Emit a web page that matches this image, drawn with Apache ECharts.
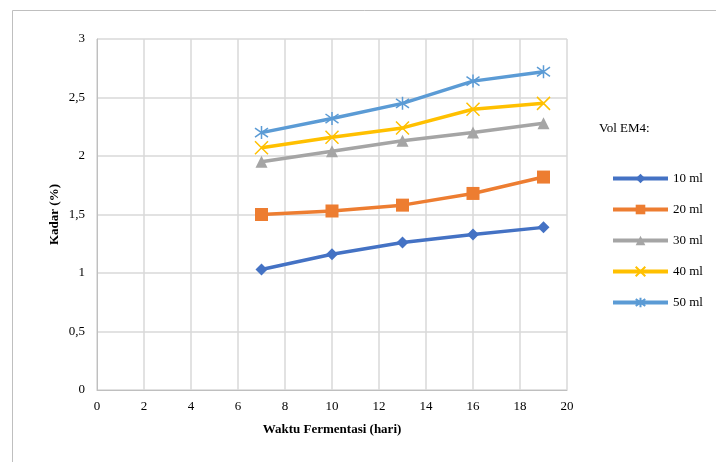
<!DOCTYPE html>
<html><head><meta charset="utf-8">
<script src="https://cdn.jsdelivr.net/npm/echarts@6/dist/echarts.min.js"></script>
<style>html,body{margin:0;padding:0;background:#fff}#c{width:716px;height:462px}</style>
</head><body><div id="c"></div>
<script>
var days = [7, 10, 13, 16, 19];
var seriesNames = ['10 ml', '20 ml', '30 ml', '40 ml', '50 ml'];
var vol10 = [1.03, 1.16, 1.26, 1.33, 1.39];
var vol20 = [1.50, 1.53, 1.58, 1.68, 1.82];
var vol30 = [1.95, 2.04, 2.13, 2.20, 2.28];
var vol40 = [2.07, 2.16, 2.24, 2.40, 2.45];
var vol50 = [2.20, 2.32, 2.45, 2.64, 2.72];
var legendTitle = 'Vol EM4:';
var xName = 'Waktu Fermentasi (hari)';
var yName = 'Kadar (%)';

var colors = ['#4472C4', '#ED7D31', '#A5A5A5', '#FFC000', '#5B9BD5'];
var symbols = ['diamond', 'rect', 'triangle',
  'path://M0,0L10,10M10,0L0,10',
  'path://M5,0L5,10M1.5,1.5L8.5,8.5M8.5,1.5L1.5,8.5'];
var sizes = [12, 13, 12, 13, 13];
var allData = [vol10, vol20, vol30, vol40, vol50];
var font = '"Liberation Serif", "Times New Roman", serif';

var series = allData.map(function (vals, i) {
  var isPath = i >= 3;
  return {
    name: seriesNames[i],
    type: 'line',
    data: days.map(function (d, j) { return [d, vals[j]]; }),
    symbol: symbols[i],
    symbolSize: sizes[i],
    showAllSymbol: true,
    lineStyle: { color: colors[i], width: 3.5 },
    itemStyle: isPath ? { color: colors[i], borderColor: colors[i], borderWidth: 1.5 } : { color: colors[i], borderWidth: 0 },
    emphasis: { disabled: true },
    z: 2 + i
  };
});

var chart = echarts.init(document.getElementById('c'), null, { renderer: 'canvas' });
chart.setOption({
  animation: false,
  backgroundColor: '#fff',
  title: {
    text: legendTitle, left: 594, top: 117,
    textStyle: { fontFamily: font, fontSize: 13, fontWeight: 'normal', color: '#000' }
  },
  legend: {
    orient: 'vertical', left: 606, top: 167,
    itemWidth: 55, itemHeight: 12, itemGap: 18,
    data: seriesNames,
    lineStyle: { width: 4 },
    textStyle: { fontFamily: font, fontSize: 13, color: '#000' }
  },
  grid: { left: 97, right: 149, top: 39, bottom: 72, containLabel: false },
  xAxis: {
    type: 'value', min: 0, max: 20, interval: 2,
    name: xName, nameLocation: 'middle', nameGap: 33,
    nameTextStyle: { fontFamily: font, fontSize: 13, fontWeight: 'bold', color: '#000' },
    axisLine: { show: true, lineStyle: { color: '#bfbfbf', width: 1 } },
    axisTick: { show: false },
    axisLabel: { fontFamily: font, fontSize: 13, color: '#000', margin: 10 },
    splitLine: { show: true, lineStyle: { color: '#d9d9d9', width: 1.5 } }
  },
  yAxis: {
    type: 'value', min: 0, max: 3, interval: 0.5,
    name: yName, nameLocation: 'middle', nameGap: 36, nameRotate: 90,
    nameMoveOverlap: false,
    nameTextStyle: { fontFamily: font, fontSize: 13, fontWeight: 'bold', color: '#000' },
    axisLine: { show: true, lineStyle: { color: '#bfbfbf', width: 1 } },
    axisTick: { show: false },
    axisLabel: {
      fontFamily: font, fontSize: 13, color: '#000', margin: 12,
      formatter: function (v) { return String(v).replace('.', ','); }
    },
    splitLine: { show: true, lineStyle: { color: '#d9d9d9', width: 1.5 } }
  },
  graphic: [
    { type: 'line', shape: { x1: 12.5, y1: 10.5, x2: 716, y2: 10.5 }, style: { stroke: '#bfbfbf', lineWidth: 1 }, silent: true },
    { type: 'line', shape: { x1: 12.5, y1: 10.5, x2: 12.5, y2: 462 }, style: { stroke: '#bfbfbf', lineWidth: 1 }, silent: true }
  ],
  series: series
});
</script>
</body></html>
